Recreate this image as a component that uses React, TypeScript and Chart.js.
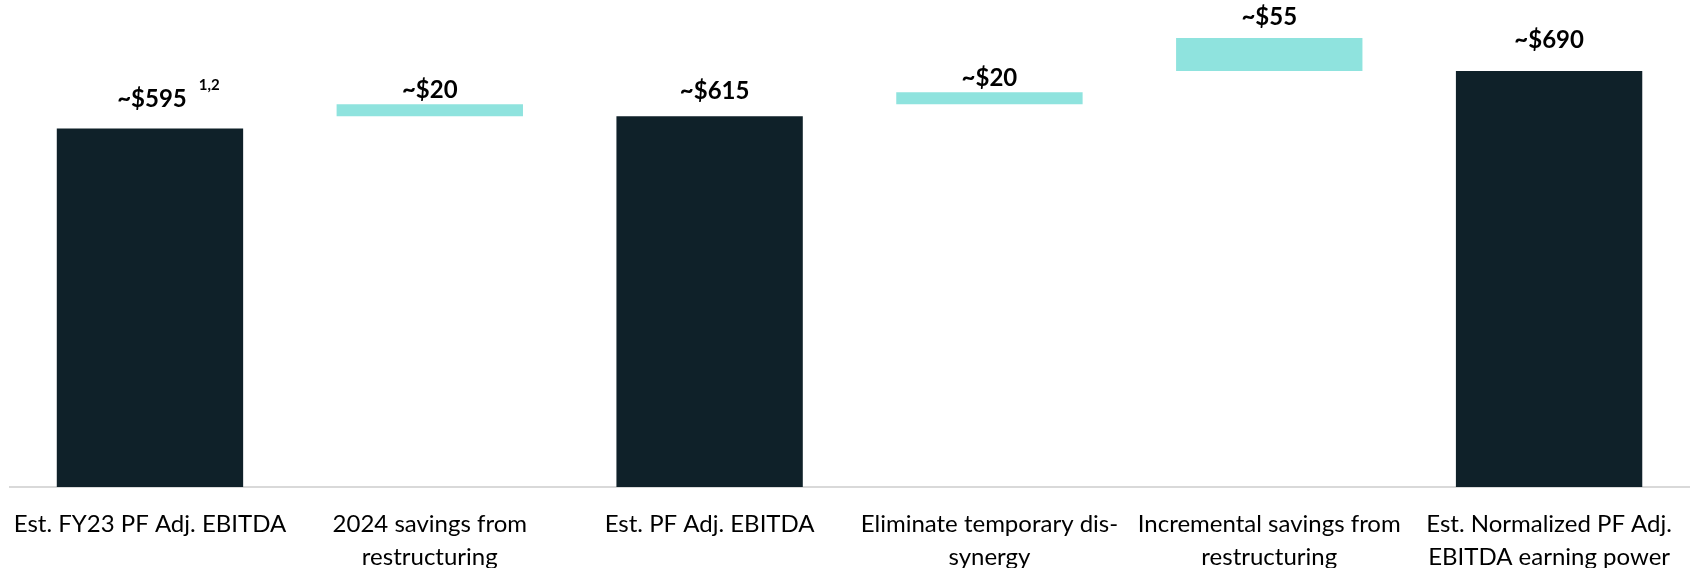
import React, { useEffect, useRef } from "react";
import { Chart, registerables } from "chart.js";

Chart.register(...registerables);

const categories: string[][] = [
  ["Est. FY23 PF Adj. EBITDA"],
  ["2024 savings from", "restructuring"],
  ["Est. PF Adj. EBITDA"],
  ["Eliminate temporary dis-", "synergy"],
  ["Incremental savings from", "restructuring"],
  ["Est. Normalized PF Adj.", "EBITDA earning power"],
];
// bar bottoms and tops as drawn in the picture ($M)
const barStart: number[] = [0, 615, 0, 635, 690, 0];
const barEnd: number[] = [595, 635, 615, 655, 745, 690];
// stated values shown in the labels
const labelValues: number[] = [595, 20, 615, 20, 55, 690];
const labelNotes: string[] = ["1,2", "", "", "", "", ""];
const isTotal: boolean[] = [true, false, true, false, false, true];

const DARK = "#0f2129";
const TEAL = "#8fe3de";
const FONT = "Lato, 'Open Sans', sans-serif";
// vertical gap between bar top and label centre, horizontal nudge
const labelGap = [29, 14, 25, 14, 21, 31];
const labelShift = [2, 0, 5, 0, 0, 0];

const valueLabelPlugin = {
  id: "valueLabels",
  afterDatasetsDraw(chart: any) {
    const ctx = chart.ctx;
    const meta = chart.getDatasetMeta(0);
    ctx.save();
    meta.data.forEach((el: any, i: number) => {
      const top = Math.min(el.y, el.base);
      const text = "~$" + labelValues[i];
      const x = el.x + labelShift[i];
      const y = top - labelGap[i];
      ctx.font = `bold 24px ${FONT}`;
      ctx.fillStyle = "#000";
      ctx.textAlign = "center";
      ctx.textBaseline = "middle";
      ctx.fillText(text, x, y);
      if (labelNotes[i]) {
        const w = ctx.measureText(text).width;
        ctx.font = `bold 15px ${FONT}`;
        ctx.textAlign = "left";
        ctx.fillText(labelNotes[i], x + w / 2 + 12, y - 14);
      }
    });
    ctx.restore();
  },
};

export default function App() {
  const ref = useRef<HTMLCanvasElement | null>(null);
  useEffect(() => {
    document.body.style.margin = "0";
    if (!ref.current) return;
    const chart = new Chart(ref.current, {
      type: "bar",
      data: {
        labels: categories,
        datasets: [
          {
            data: barStart.map((s, i) => [s, barEnd[i]]) as any,
            backgroundColor: isTotal.map((t) => (t ? DARK : TEAL)),
            borderWidth: 0,
            categoryPercentage: 1,
            barPercentage: 0.666,
          },
        ],
      },
      options: {
        responsive: false,
        animation: false,
        layout: { padding: { left: 9, right: 3, top: 0, bottom: 0 } },
        plugins: { legend: { display: false }, tooltip: { enabled: false } },
        scales: {
          x: {
            grid: { display: false },
            border: { display: true, color: "#d9d9d9", width: 2 },
            ticks: {
              color: "#000",
              padding: 13,
              maxRotation: 0,
              autoSkip: false,
              font: { family: FONT, size: 24, lineHeight: 1.375 },
            },
            afterFit(scale: any) {
              scale.height = 81;
            },
          },
          y: {
            display: false,
            min: 0,
            max: 808,
            grid: { display: false },
          },
        },
      },
      plugins: [valueLabelPlugin],
    });
    return () => chart.destroy();
  }, []);
  return (
    <div style={{ width: 1692, height: 568, overflow: "hidden", background: "#fff" }}>
      <canvas ref={ref} width={1692} height={568} style={{ display: "block" }} />
    </div>
  );
}
